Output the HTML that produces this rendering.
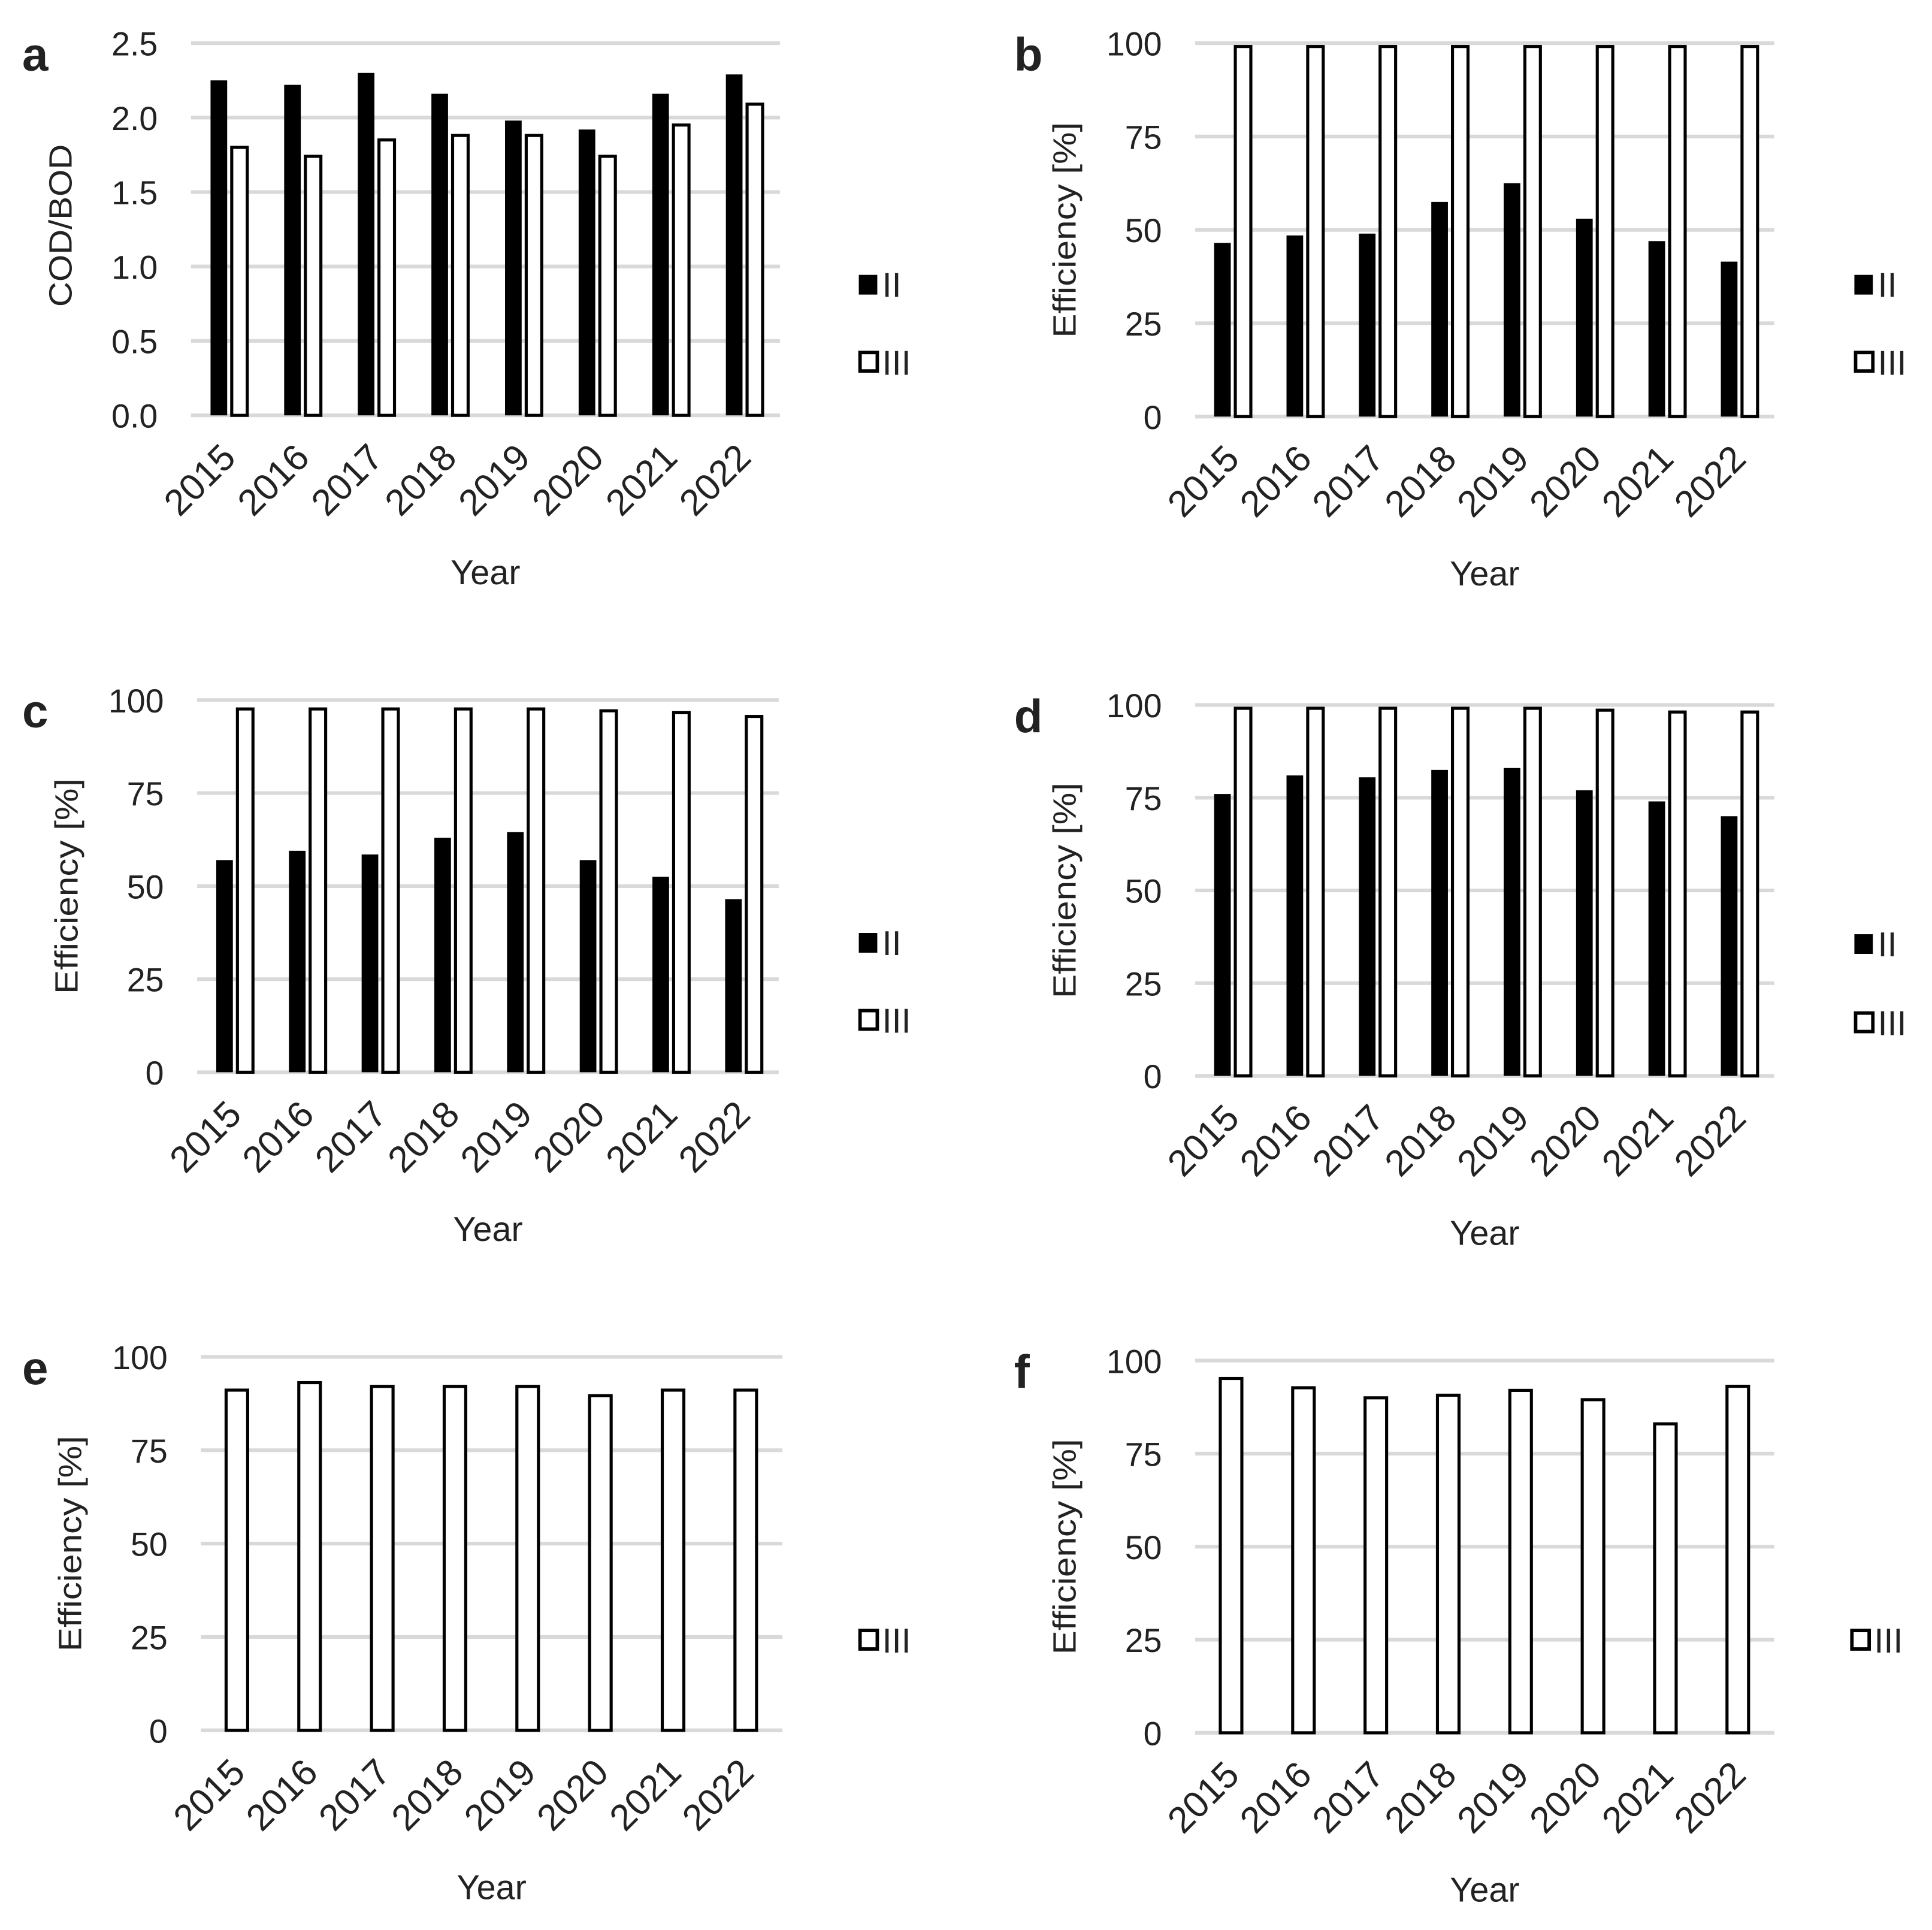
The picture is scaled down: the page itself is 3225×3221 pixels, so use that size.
<!DOCTYPE html>
<html><head><meta charset="utf-8">
<style>
html,body{margin:0;padding:0;background:#fff;}
svg{display:block;}
text{font-family:"Liberation Sans",sans-serif;fill:#222;}
</style></head>
<body>
<svg id="fig" width="3225" height="3221" viewBox="0 0 1568 1566" xmlns="http://www.w3.org/2000/svg"></svg>
<script>
const categories = ["2015","2016","2017","2018","2019","2020","2021","2022"];
const aII  = [2.25, 2.22, 2.30, 2.16, 1.98, 1.92, 2.16, 2.29];
const aIII = [1.81, 1.75, 1.86, 1.89, 1.89, 1.75, 1.96, 2.10];
const bII  = [46.5, 48.5, 49, 57.5, 62.5, 53, 47, 41.5];
const bIII = [99.5, 99.5, 99.5, 99.5, 99.5, 99.5, 99.5, 99.5];
const cII  = [57, 59.5, 58.5, 63, 64.5, 57, 52.5, 46.5];
const cIII = [98, 98, 98, 98, 98, 97.5, 97, 96];
const dII  = [76, 81, 80.5, 82.5, 83, 77, 74, 70];
const dIII = [99.5, 99.5, 99.5, 99.5, 99.5, 99, 98.5, 98.5];
const eIII = [91.5, 93.5, 92.5, 92.5, 92.5, 90, 91.5, 91.5];
const fIII = [95.6, 93.1, 90.4, 91.1, 92.4, 89.9, 83.4, 93.5];
const ticksA = ["0.0","0.5","1.0","1.5","2.0","2.5"];
const ticksE = ["0","25","50","75","100"];

const panels = [
 {id:"a", left:155, right:633, top:35,  bottom:337, max:2.5, ticks:ticksA, ylabel:"COD/BOD", ylen:132, series:[aII,aIII], legX:697, legY:[231,294]},
 {id:"b", left:970, right:1440, top:35, bottom:338, max:100, ticks:ticksE, ylabel:"Efficiency [%]", ylen:175, series:[bII,bIII], legX:1505, legY:[231,294]},
 {id:"c", left:160, right:632, top:568, bottom:870, max:100, ticks:ticksE, ylabel:"Efficiency [%]", ylen:175, series:[cII,cIII], legX:697, legY:[765,828]},
 {id:"d", left:970, right:1440, top:572, bottom:873, max:100, ticks:ticksE, ylabel:"Efficiency [%]", ylen:175, series:[dII,dIII], legX:1505, legY:[766,830]},
 {id:"e", left:163, right:635, top:1101, bottom:1404, max:100, ticks:ticksE, ylabel:"Efficiency [%]", ylen:175, series:[null,eIII], legX:697, legY:[null,1331]},
 {id:"f", left:970, right:1440, top:1104, bottom:1406, max:100, ticks:ticksE, ylabel:"Efficiency [%]", ylen:175, series:[null,fIII], legX:1502, legY:[null,1331]}
];

const NS = "http://www.w3.org/2000/svg";
const svg = document.getElementById("fig");
function mk(tag, attrs, parent, txt){
  const e = document.createElementNS(NS, tag);
  for (const k in attrs) e.setAttribute(k, attrs[k]);
  if (txt !== undefined) e.textContent = txt;
  parent.appendChild(e);
  return e;
}

panels.forEach(p => {
  const g = mk("g", {}, svg);
  
  
  const yScale = v => p.bottom - (v / p.max) * (p.bottom - p.top);
  const step = (p.right - p.left) / categories.length;
  const xCenter = i => p.left + step * (i + 0.5);

  p.ticks.forEach(t => {
    const y = yScale(parseFloat(t));
    const gl = mk("line", {x1:p.left, x2:p.right, y1:y, y2:y, stroke:"#d9d9d9", "stroke-width":3}, g);
    
    
    const tl = mk("text", {x:p.left - 27, y:y + 10, "text-anchor":"end", "font-size":27}, g, t);
    
    
  });

  const two = p.series[0] !== null;
  categories.forEach((c, i) => {
    const cx = xCenter(i);
    if (two) {
      const v = p.series[0][i];
      const r = mk("rect", {x:cx - 14, y:yScale(v), width:13.5, height:p.bottom - yScale(v), fill:"#000"}, g);
      
      
      const w = p.series[1][i];
      const r2 = mk("rect", {x:cx + 3.2, y:yScale(w) + 1.2, width:12.6, height:p.bottom - yScale(w) - 1.2, fill:"#fff", stroke:"#000", "stroke-width":2.5}, g);
      
      
    } else {
      const w = p.series[1][i];
      const r2 = mk("rect", {x:cx - 9, y:yScale(w) + 1.2, width:17.5, height:p.bottom - yScale(w) - 1.2, fill:"#fff", stroke:"#000", "stroke-width":2.5}, g);
      
      
    }
    const xl = mk("text", {transform:"translate(" + (cx + 8) + "," + (p.bottom + 36) + ") rotate(-45)", "text-anchor":"end", "font-size":30}, g, c);
    
    
  });

  const xt = mk("text", {x:(p.left + p.right) / 2, y:p.bottom + 137, "text-anchor":"middle", "font-size":28}, g, "Year");
  
  
  const ymid = (p.top + p.bottom) / 2 + (p.id === "a" ? -3 : 0);
  const yt = mk("text", {transform:"translate(" + (p.left - 97) + "," + ymid + ") rotate(-90)", "text-anchor":"middle", "font-size":26, textLength:p.ylen, lengthAdjust:"spacingAndGlyphs"}, g, p.ylabel);
  
  

  const letterX = p.left < 500 ? 18 : 823;
  const pl = mk("text", {x:letterX, y:p.top + 22, "font-size":38, "font-weight":"bold"}, g, p.id);
  
  

  if (two) {
    const lg = mk("g", {}, g);
    
    
    mk("rect", {x:p.legX, y:p.legY[0] - 8, width:15, height:16, fill:"#000"}, lg);
    mk("text", {x:p.legX + 19, y:p.legY[0] + 10, "font-size":28}, lg, "II");
  }
  const lg2 = mk("g", {}, g);
  
  
  mk("rect", {x:p.legX + 1, y:p.legY[1] - 8, width:14, height:15, fill:"#fff", stroke:"#000", "stroke-width":2.8}, lg2);
  mk("text", {x:p.legX + 19, y:p.legY[1] + 10, "font-size":28}, lg2, "III");
});
</script>
</body></html>
